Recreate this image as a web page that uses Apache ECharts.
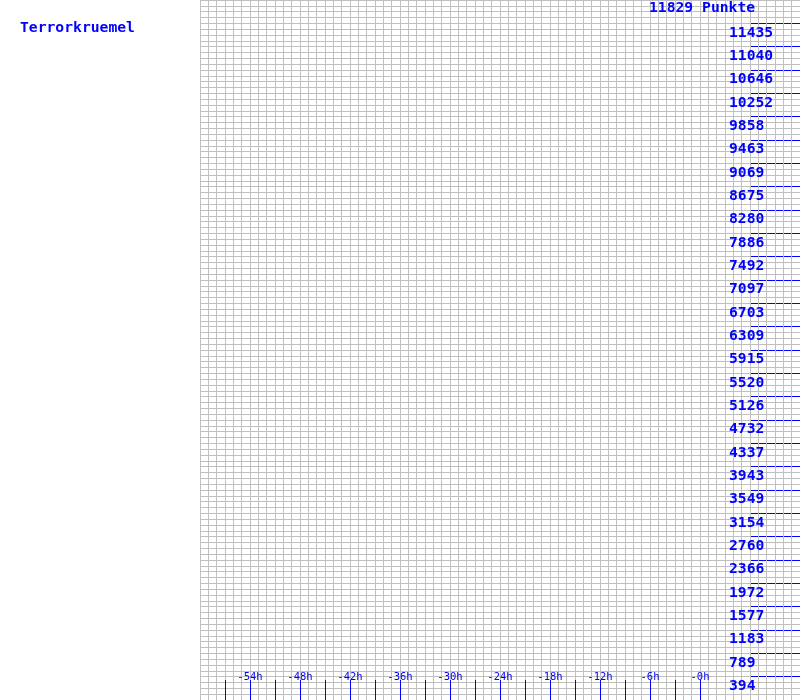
<!DOCTYPE html>
<html>
<head>
<meta charset="utf-8">
<script src="https://cdn.jsdelivr.net/npm/echarts@6/dist/echarts.min.js"></script>
<style>
html,body{margin:0;padding:0;background:#fff;}
#c{width:800px;height:700px;}
</style>
</head>
<body>
<div id="c"></div>
<script>
// ---- data ----
const playerName = 'Terrorkruemel';
const totalPoints = 11829;
const pointsUnit = 'Punkte';
const hourMin = -60;
const hourMax = 12;
const hourTickFirst = -57;
const hourTickLast = 0;
const hourTickStep = 3;
const hourLabelValues = [-54, -48, -42, -36, -30, -24, -18, -12, -6, 0];
const hourLabels = ['-54h', '-48h', '-42h', '-36h', '-30h', '-24h', '-18h', '-12h', '-6h', '-0h'];
const pointTickValues = [394, 789, 1183, 1577, 1972, 2366, 2760, 3154, 3549, 3943, 4337, 4732, 5126, 5520, 5915, 6309, 6703, 7097, 7492, 7886, 8280, 8675, 9069, 9463, 9858, 10252, 10646, 11040, 11435];
const pointLabels = ['394', '789', '1183', '1577', '1972', '2366', '2760', '3154', '3549', '3943', '4337', '4732', '5126', '5520', '5915', '6309', '6703', '7097', '7492', '7886', '8280', '8675', '9069', '9463', '9858', '10252', '10646', '11040', '11435'];
const pointDivisions = 30;
const gridRowsCount = 120;

// ---- chart ----
const BLUE = '#0000ff';
const GRAY = '#c0c0c0';
const MONO = '"DejaVu Sans Mono", "Liberation Mono", monospace';
const W = 800, H = 700, PLOT_LEFT = 200;
const X_TICK_LEN = 20, Y_TICK_LEN = 50;
const chart = echarts.init(document.getElementById('c'), null, {renderer: 'canvas'});

function hourLabel(v) {
  const i = hourLabelValues.findIndex(h => Math.abs(h - v) < 1e-6);
  return i >= 0 ? hourLabels[i] : '';
}
function pointLabel(v) {
  let best = -1, bd = Infinity;
  pointTickValues.forEach((p, i) => { const d = Math.abs(p - v); if (d < bd) { bd = d; best = i; } });
  return bd < 2 ? pointLabels[best] : '';
}

const pxPerHour = (W - PLOT_LEFT) / (hourMax - hourMin);
const step = totalPoints / pointDivisions;
const pxPerPoint = H / totalPoints;

chart.setOption({
  animation: false,
  backgroundColor: '#ffffff',
  title: [
    {text: playerName, left: 20, top: 21, padding: 0,
     textStyle: {color: BLUE, fontFamily: MONO, fontWeight: 'bold', fontSize: 14.7}},
    {text: totalPoints + ' ' + pointsUnit, left: 649, top: 1, padding: 0,
     textStyle: {color: BLUE, fontFamily: MONO, fontWeight: 'bold', fontSize: 14.7}}
  ],
  grid: [
    // main plot: fine gray grid
    {left: PLOT_LEFT, right: 0, top: 0, bottom: 0, containLabel: false},
    // hour tick strip at bottom
    {left: PLOT_LEFT + (hourTickFirst - hourMin) * pxPerHour, right: (hourMax - hourTickLast) * pxPerHour,
     top: H - X_TICK_LEN, bottom: 0, containLabel: false},
    // point tick strip at right
    {left: W - Y_TICK_LEN, right: 0, top: step * pxPerPoint, bottom: step * pxPerPoint, containLabel: false}
  ],
  xAxis: [
    {gridIndex: 0, type: 'value', min: hourMin, max: hourMax, interval: 1,
     axisLine: {show: false}, axisTick: {show: false}, axisLabel: {show: false},
     splitLine: {show: true, lineStyle: {color: GRAY, width: 1}}},
    {gridIndex: 1, type: 'value', min: hourTickFirst, max: hourTickLast, interval: hourTickStep,
     position: 'bottom',
     axisLine: {show: false}, axisTick: {show: false},
     splitLine: {show: true, lineStyle: {color: BLUE, width: 1}},
     axisLabel: {show: true, inside: true, margin: 17, showMinLabel: true, showMaxLabel: true,
                 color: BLUE, fontFamily: MONO, fontSize: 10.5, formatter: hourLabel}},
    {gridIndex: 2, type: 'value', min: 0, max: 1, show: false}
  ],
  yAxis: [
    {gridIndex: 0, type: 'value', min: 0, max: totalPoints, interval: totalPoints / gridRowsCount,
     axisLine: {show: false}, axisTick: {show: false}, axisLabel: {show: false},
     splitLine: {show: true, lineStyle: {color: GRAY, width: 1}}},
    {gridIndex: 1, type: 'value', min: 0, max: 1, show: false},
    {gridIndex: 2, type: 'value', min: step, max: step * (pointDivisions - 1), interval: step,
     position: 'right',
     axisLine: {show: false}, axisTick: {show: false},
     splitLine: {show: true, lineStyle: {color: BLUE, width: 1}},
     axisLabel: {show: true, inside: true, margin: 71, align: 'left', verticalAlign: 'top',
                 showMinLabel: true, showMaxLabel: true,
                 padding: [2, 0, 0, 0],
                 color: BLUE, fontFamily: MONO, fontWeight: 'bold', fontSize: 14.7,
                 formatter: pointLabel}}
  ],
  series: []
});
</script>
</body>
</html>
